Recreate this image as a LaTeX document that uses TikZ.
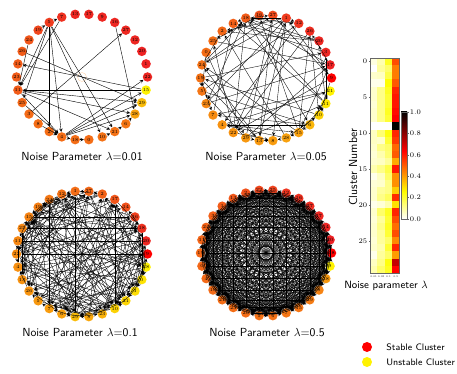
\documentclass[tikz,border=0pt]{standalone}
\usepackage{tikz}
\usetikzlibrary{calc, positioning}

% hot_r colour map, stops inside the 25bp--75bp window that tikz fits to the path
\pgfdeclareverticalshading{hotr}{100bp}{color(0bp)=(white); color(25bp)=(white); color(37.7bp)=(yellow); color(56.75bp)=(red); color(75bp)=(black); color(100bp)=(black)}

\tikzset{
  clnode/.style={circle, inner sep=0pt, minimum size=2.85mm, fill=#1,
    font=\fontsize{4}{4}\selectfont},
  edg/.style={->, line width=0.3pt},
  gtitle/.style={font=\sffamily},
  ticklbl/.style={font=\fontsize{6}{6}\selectfont, inner sep=1pt},
  spine/.style={black!60, line width=0.4pt},
}

\begin{document}
\begin{tikzpicture}[>=stealth, x=0.03cm, y=0.03cm]
  \useasboundingbox (0,0) rectangle (457,374);
  % ring centres
  \coordinate (cenA) at (82,297);
  \coordinate (cenB) at (266,296);
  \coordinate (cenC) at (82,120);
  \coordinate (cenD) at (266,121);

  % lambda = 0.01
  \foreach \lbl/\g [count=\idx from 0] in {22/5,1/3,20/3,12/5,27/6,16/5,9/5,17/5,13/5,7/10,5/15,19/20,24/27,26/30,14/30,23/30,11/30,25/35,3/37,8/38,2/38,4/38,18/38,0/38,10/40,21/40,6/42,28/62,29/75,15/100}
    \node[clnode=yellow!\g!red] (ga\lbl) at ($(cenA)+(12*\idx:65.5 and 63)$) {\lbl};
  \draw[orange!35, line width=0.3pt] (cenA) circle (4.5);
  \foreach \src/\dst in {5/7,19/5,5/2,5/4,5/10,5/21,5/25,5/11,7/11,24/11,26/29,15/14,15/11,11/29,11/28,11/21,11/4,25/4,3/27,16/28,4/22,4/15,4/29,4/28,4/18,18/0,10/21,21/6,6/28,2/4,8/4}
    \draw[edg, line width=0.35pt] (ga\src) -- (ga\dst);
  \node[gtitle] (t1) at (82,217) {Noise Parameter $\lambda$=0.01};

  % lambda = 0.05
  \foreach \lbl/\g [count=\idx from 0] in {9/0,17/3,3/5,20/5,26/8,12/12,1/15,27/22,16/25,18/30,14/32,2/35,25/38,0/38,24/40,19/40,5/42,23/50,7/52,4/55,22/55,29/58,13/58,8/60,28/62,15/62,6/72,10/85,11/95,21/100}
    \node[clnode=yellow!\g!red] (gb\lbl) at ($(cenB)+(12*\idx:65.5 and 63)$) {\lbl};
  \pgfmathsetseed{11}
  \foreach \i in {0,...,28}{
    \pgfmathtruncatemacro\jlo{\i+1}
    \foreach \j in {\jlo,...,29}{
      \pgfmathtruncatemacro\keep{rnd<0.17}
      \ifnum\keep=1
        \ifodd\numexpr\i*7+\j\relax \draw[edg] (gb\i) -- (gb\j); \else \draw[edg] (gb\j) -- (gb\i); \fi
      \fi
    }
  }
  \node[gtitle] (t2) at (266,217) {Noise Parameter $\lambda$=0.05};

  % lambda = 0.1
  \foreach \lbl/\g [count=\idx from 0] in {9/0,20/5,18/10,16/17,14/25,17/27,2/33,27/35,1/38,12/40,24/43,19/46,15/48,25/50,11/50,22/52,4/54,13/55,26/56,5/58,7/60,6/62,29/75,8/65,23/70,10/85,21/86,3/90,0/93,28/100}
    \node[clnode=yellow!\g!red] (gc\lbl) at ($(cenC)+(12*\idx:65.5 and 63)$) {\lbl};
  \pgfmathsetseed{5}
  \foreach \i in {0,...,28}{
    \pgfmathtruncatemacro\jlo{\i+1}
    \foreach \j in {\jlo,...,29}{
      \pgfmathtruncatemacro\keep{rnd<0.4}
      \ifnum\keep=1
        \ifodd\numexpr\i*5+\j*3\relax \draw[edg] (gc\i) -- (gc\j); \else \draw[edg] (gc\j) -- (gc\i); \fi
      \fi
    }
  }
  \node[gtitle] (t3) at (80,41) {Noise Parameter $\lambda$=0.1};

  % lambda = 0.5, nearly every pair
  \foreach \lbl/\g [count=\idx from 0] in {18/0,20/2,14/4,17/5,27/8,16/10,12/12,25/18,22/20,2/25,13/28,1/30,3/32,24/33,11/34,19/35,0/35,4/36,10/37,21/38,23/38,26/38,5/40,6/40,7/42,15/42,29/45,8/48,28/58,9/100}
    \node[clnode=yellow!\g!red] (gd\lbl) at ($(cenD)+(12*\idx:65.5 and 63)$) {\lbl};
  \foreach \i in {0,...,28}{
    \pgfmathtruncatemacro\jlo{\i+1}
    \foreach \j in {\jlo,...,29}{
      \ifodd\numexpr\i+\j\relax \draw[edg] (gd\i) -- (gd\j); \else \draw[edg] (gd\j) -- (gd\i); \fi
    }
  }
  \node[gtitle] (t4) at (267,41) {Noise Parameter $\lambda$=0.5};

  % heatmap of cluster scores
  \foreach \rw/\va/\vb/\vc/\vd in {0/.03/.08/.22/.52,1/.00/.10/.15/.45,2/.05/.06/.18/.45,3/.02/.02/.25/.50,4/.05/.12/.22/.58,5/.05/.12/.20/.60,6/.04/.12/.20/.60,7/.05/.12/.22/.62,8/.05/.12/.20/.64,9/.00/.00/.00/1.0,10/.06/.14/.24/.58,11/.06/.05/.20/.55,12/.05/.12/.15/.48,13/.04/.08/.14/.50,14/.05/.06/.10/.38,15/.08/.12/.18/.60,16/.02/.06/.15/.42,17/.04/.05/.12/.42,18/.05/.10/.12/.33,19/.05/.12/.16/.57,20/.02/.04/.08/.30,21/.05/.15/.22/.58,22/.04/.10/.20/.52,23/.05/.12/.22/.47,24/.05/.10/.20/.52,25/.04/.10/.15/.43,26/.05/.08/.20/.58,27/.02/.10/.15/.40,28/.06/.12/.24/.72,29/.08/.15/.22/.63}{
    \foreach \val [count=\col from 0] in {\va,\vb,\vc,\vd}{
      \pgfmathsetmacro\hx{1-\val}
      \pgfmathsetmacro\hr{min(1,\hx/0.365)}
      \pgfmathsetmacro\hg{max(0,min(1,(\hx-0.365)/0.381))}
      \pgfmathsetmacro\hb{max(0,min(1,(\hx-0.746)/0.254))}
      \definecolor{cellc}{rgb}{\hr,\hg,\hb}
      \fill[cellc] (370+7.4*\col,316-7.1667*\rw) rectangle ++(7.4,-7.1667);
    }
  }
  \draw[spine] (370,101) rectangle (399.6,316);
  \foreach \rw in {0,5,...,25}
    \draw[spine] (370,316-7.1667*\rw-3.58) -- ++(-1.5,0) node[left, ticklbl, black] (yt\rw) {\rw};
  \foreach \lam [count=\col from 0] in {0.01,0.05,0.1,0.5}
    \draw[spine] (373.7+7.4*\col,101) -- ++(0,-1.5) node[below, inner sep=0.5pt, black, font=\fontsize{2.2}{2.2}\selectfont] (xt\col) {\lam};
  \node[font=\sffamily, rotate=90] (ylab) at (353,207) {Cluster Number};
  \node[font=\sffamily\small] (xlab) at (386,88) {Noise parameter $\lambda$};

  % colour bar
  \shade[shading=hotr] (401,155) rectangle (407,262);
  \draw[spine] (401,155) rectangle (407,262);
  \foreach \cv [count=\idx from 0] in {0.0,0.2,0.4,0.6,0.8,1.0}
    \draw[spine] (407,155+21.4*\idx) -- ++(1.5,0) node[right, ticklbl, black] (cb\idx) {\cv};

  % legend
  \node[circle, fill=red, inner sep=0pt, minimum size=3mm] (stabdot) at (367,27) {};
  \node[circle, fill=yellow, inner sep=0pt, minimum size=3mm] (unstdot) at (367,12) {};
  \node[right=3mm of stabdot, font=\sffamily\fontsize{8}{9}\selectfont] (stabtxt) {Stable Cluster};
  \node[right=3mm of unstdot, font=\sffamily\fontsize{8}{9}\selectfont] (unsttxt) {Unstable Cluster};
\end{tikzpicture}
\end{document}
